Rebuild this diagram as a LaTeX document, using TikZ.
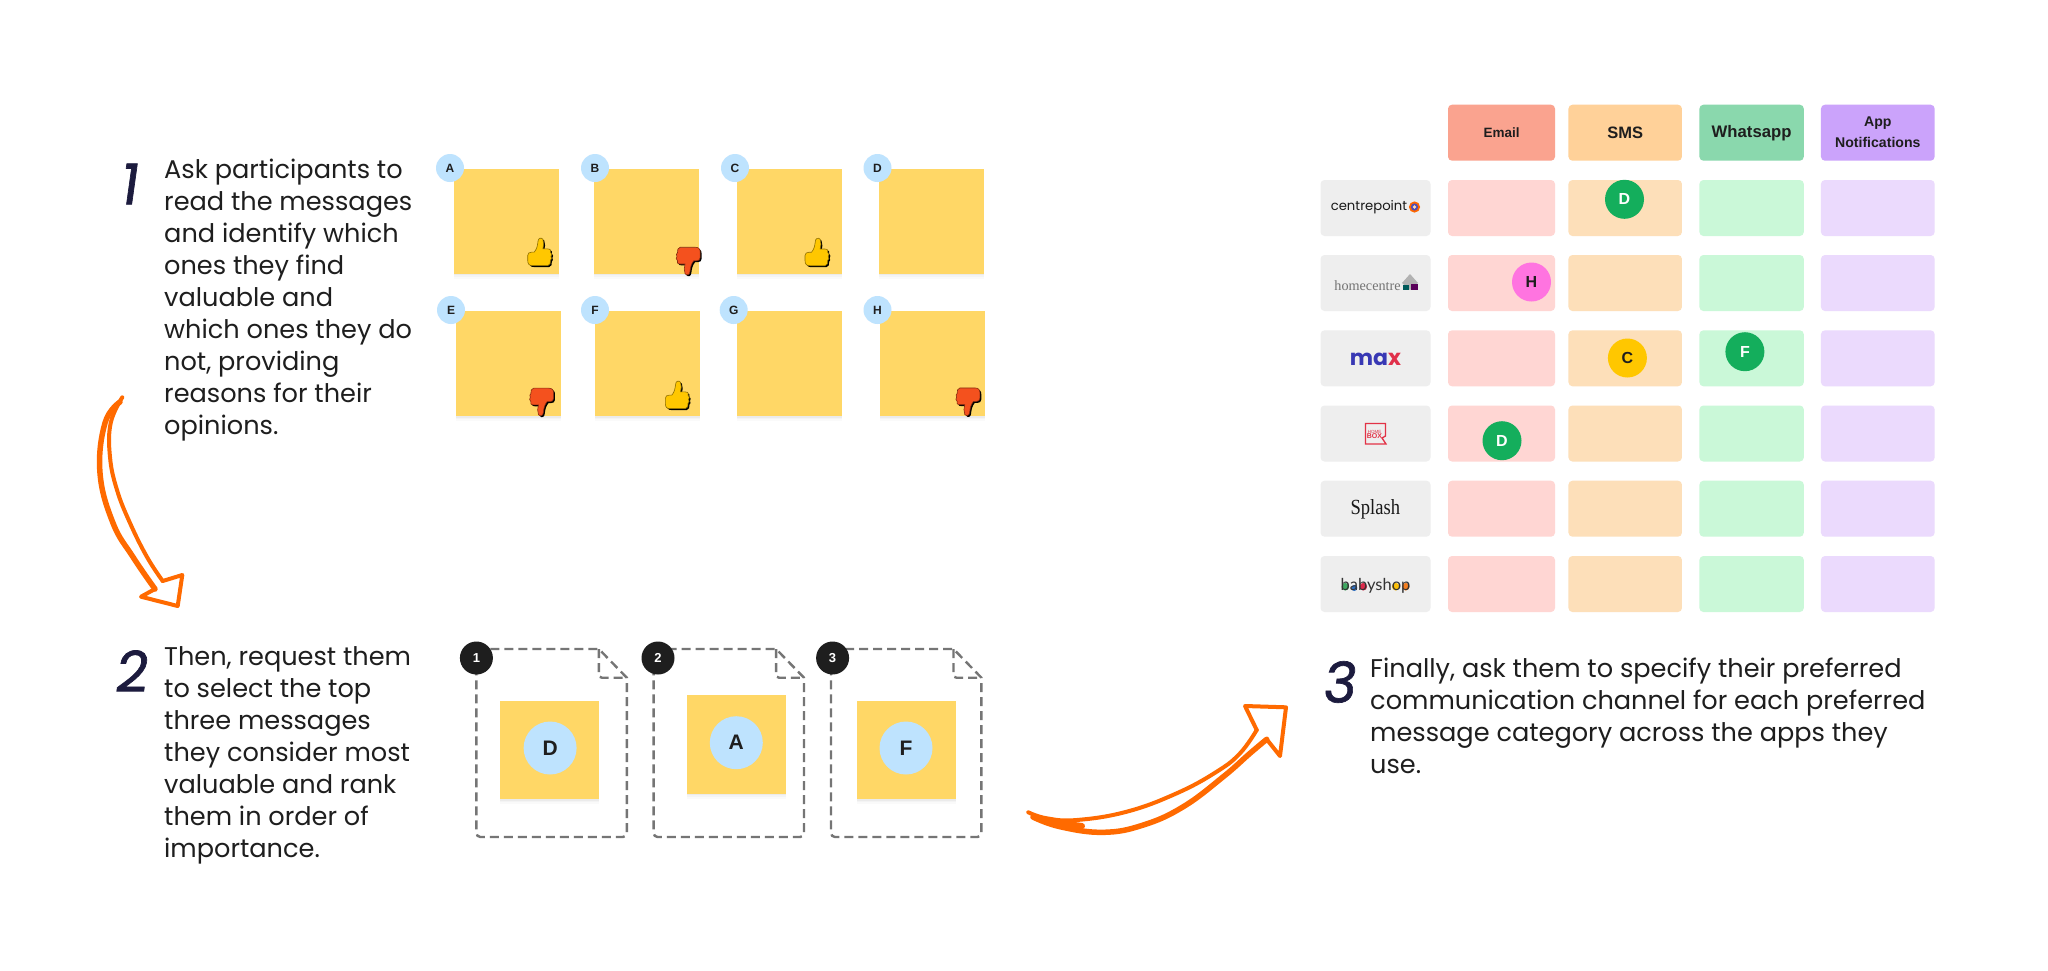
\documentclass[tikz,border=0pt]{standalone}
\usepackage{fontspec}
\setmainfont{Poppins}
\newfontfamily\headfont{Liberation Sans}
\newfontfamily\logoserif{Liberation Serif}
\newfontfamily\logosans{Lato}
\newfontfamily\handfont[FakeBold=1.2,FakeSlant=0.14]{Poppins}
\definecolor{stickyc}{HTML}{FFD766}
\definecolor{bubble}{HTML}{BEE3FE}
\definecolor{inkc}{HTML}{1E1E1E}
\definecolor{handc}{HTML}{1C1B3E}
\definecolor{arrowc}{HTML}{FF6A00}
\definecolor{dashc}{HTML}{757575}
\definecolor{hEmail}{HTML}{FAA38F}
\definecolor{hSms}{HTML}{FFD199}
\definecolor{hWa}{HTML}{8AD8AD}
\definecolor{hApp}{HTML}{CBA3FB}
\definecolor{cEmail}{HTML}{FFD6D3}
\definecolor{cSms}{HTML}{FDDFB9}
\definecolor{cWa}{HTML}{CAF8D8}
\definecolor{cApp}{HTML}{EBDAFD}
\definecolor{logoc}{HTML}{EEEEEE}
\definecolor{mgreen}{HTML}{14AE5C}
\definecolor{mpink}{HTML}{FF74E0}
\definecolor{myellow}{HTML}{FFC700}
\definecolor{thumbup}{HTML}{FFC700}
\definecolor{thumbdown}{HTML}{F4511E}
\definecolor{boxred}{HTML}{E23246}
\definecolor{dotA}{HTML}{3FA860}
\definecolor{dotB}{HTML}{2F6FC0}
\definecolor{dotC}{HTML}{DC2B4B}
\definecolor{dotD}{HTML}{FFC107}
\definecolor{dotE}{HTML}{F57F20}
\newcommand\thumbpath{(-11.5,3) .. controls (-11.5,1) and (-10,0) .. (-8,0) -- (-5.5,0) .. controls (-3,-3) and (-2.5,-6) .. (-2,-10) .. controls (-2,-13) and (1,-14) .. (2.5,-12) .. controls (4,-9) and (3,-6) .. (2.5,-3) -- (7,-3) .. controls (10,-3) and (10,-1) .. (9.5,0) .. controls (11,1) and (11,3) .. (10,4) .. controls (11,5) and (10.5,7) .. (9.5,7.5) .. controls (10,10) and (9,12) .. (7,12.5) -- (-7,12.5) .. controls (-10,12.5) and (-11.5,11) .. (-11.5,8) -- cycle}
\tikzset{
  steptext/.style={anchor=north west,inner sep=0pt,align=left,text=inkc,font=\fontsize{25.6}{32}\selectfont},
  hand/.style={inner sep=0pt,text=handc,font=\handfont\fontsize{56}{56}\selectfont},
  softshadow/.style={
    preaction={fill=black,opacity=.02,transform canvas={yshift=-5pt}},
    preaction={fill=black,opacity=.025,transform canvas={yshift=-3pt}},
    preaction={fill=black,opacity=.035,transform canvas={yshift=-1.5pt}}},
  sticky/.style={rectangle,fill=stickyc,inner sep=0pt,minimum width=105,minimum height=105,softshadow},
  bigsticky/.style={rectangle,fill=stickyc,inner sep=0pt,minimum width=99,minimum height=98.5,softshadow},
  tag/.style={circle,fill=bubble,inner sep=0pt,minimum size=28,text=inkc,font=\headfont\bfseries\fontsize{12}{12}\selectfont},
  bigtag/.style={circle,fill=bubble,inner sep=0pt,minimum size=53,text=inkc,font=\headfont\bfseries\fontsize{21}{21}\selectfont},
  rank/.style={circle,fill=inkc,inner sep=0pt,minimum size=33,text=white,font=\headfont\bfseries\fontsize{13}{13}\selectfont},
  marker/.style={circle,inner sep=0pt,minimum size=39,font=\headfont\bfseries\fontsize{16}{16}\selectfont},
  cell/.style={rectangle,rounded corners=4pt,inner sep=0pt,minimum height=56},
  head/.style={cell,text=inkc,align=center},
  dashdoc/.style={draw=dashc,line width=2.4pt,dash pattern=on 9pt off 5pt},
  sketch/.style={draw=arrowc,line cap=round,line join=round},
  thumbupshape/.pic={
    \fill[black] [xshift=.8pt,yshift=-.8pt] \thumbpath;
    \filldraw[fill=thumbup,draw=black!45!thumbup,line width=.6pt] [xshift=-.5pt,yshift=.5pt] \thumbpath;
  },
  thumbdownshape/.pic={
    \fill[black] [xshift=-.8pt,yshift=.8pt] \thumbpath;
    \filldraw[fill=thumbdown,draw=black!45!thumbdown,line width=.6pt] [xshift=.5pt,yshift=-.5pt] \thumbpath;
  },
}
\newcommand\docshape[1]{%
  \begin{scope}[xshift=#1pt]
    \draw[dashdoc] (0,649) -- (122.5,649) -- (150.4,677.7) [rounded corners=4pt] -- (150.4,837) -- (0,837) [sharp corners] -- (0,649);
    \draw[dashdoc] (122.5,649) [rounded corners=3pt] -- (122.5,677.7) [sharp corners] -- (150.4,677.7);
  \end{scope}}
\begin{document}
\begin{tikzpicture}[x=1pt,y=-1pt]
\useasboundingbox (0,0) rectangle (2048,970);
\fill[white] (0,0) rectangle (2048,970);

% step numbers and texts
\node[hand] (numOne) at (128,184) {1};
\node[hand] (numTwo) at (130,671) {2};
\node[hand] (numThree) at (1338,682) {3};
\node[steptext] (textOne) at (164,159) {Ask participants to\\read the messages\\and identify which\\ones they find\\valuable and\\which ones they do\\not, providing\\reasons for their\\opinions.};
\node[steptext] (textTwo) at (164,646.5) {Then, request them\\to select the top\\three messages\\they consider most\\valuable and rank\\them in order of\\importance.};
\node[steptext] (textThree) at (1370,658) {Finally, ask them to specify their preferred\\communication channel for each preferred\\message category across the apps they\\use.};

% stickies
\node[sticky] (sA) at (506.5,221) {};
\node[sticky] (sB) at (646.5,221) {};
\node[sticky] (sC) at (789.5,221) {};
\node[sticky] (sD) at (931.5,221) {};
\node[sticky] (sE) at (508.5,363.5) {};
\node[sticky] (sF) at (647.5,363.5) {};
\node[sticky] (sG) at (789.5,363.5) {};
\node[sticky] (sH) at (932.5,363.5) {};
\node[tag] (tA) at (450,168) {A};
\node[tag] (tB) at (595,168) {B};
\node[tag] (tC) at (735,168) {C};
\node[tag] (tD) at (877.5,168) {D};
\node[tag] (tE) at (451,310) {E};
\node[tag] (tF) at (595,310) {F};
\node[tag] (tG) at (733.7,310) {G};
\node[tag] (tH) at (877.5,310) {H};
\pic[scale=1.08] at (540.7,252.7) {thumbupshape};
\pic[rotate=180,scale=1.08] at (688.3,261.3) {thumbdownshape};
\pic[scale=1.08] at (818,252.8) {thumbupshape};
\pic[rotate=180,scale=1.08] at (541.7,402.2) {thumbdownshape};
\pic[scale=1.08] at (678.3,395.7) {thumbupshape};
\pic[rotate=180,scale=1.08] at (968,402) {thumbdownshape};

% ranked documents
\docshape{476.4}
\docshape{653.6}
\docshape{831}
\node[rank] (rOne) at (476.4,658) {1};
\node[rank] (rTwo) at (658,658) {2};
\node[rank] (rThree) at (832.6,658) {3};
\node[bigsticky] (bD) at (549.6,750) {};
\node[bigsticky] (bA) at (736.1,744.3) {};
\node[bigsticky] (bF) at (906,750) {};
\node[bigtag] (btD) at (550.1,748) {D};
\node[bigtag] (btA) at (736.3,742.7) {A};
\node[bigtag] (btF) at (906,748) {F};

% table header
\node[head,fill=hEmail,minimum width=107,font=\headfont\bfseries\fontsize{13.5}{16}\selectfont] (hE) at (1501.5,132.7) {Email};
\node[head,fill=hSms,minimum width=113.5,font=\headfont\bfseries\fontsize{16.5}{16}\selectfont] (hS) at (1625.2,132.7) {SMS};
\node[head,fill=hWa,minimum width=104.4,font=\headfont\bfseries\fontsize{16.7}{16}\selectfont] (hW) at (1751.6,132.7) {Whatsapp};
\node[head,fill=hApp,minimum width=113.7,font=\headfont\bfseries\fontsize{14.1}{21}\selectfont] (hA) at (1877.8,132.7) {App\\Notifications};

% table body
\foreach \r/\yy in {1/208,2/283,3/358.3,4/433.5,5/508.7,6/584}{
  \node[cell,fill=logoc,minimum width=110] (logo\r) at (1375.5,\yy) {};
  \node[cell,fill=cEmail,minimum width=107] (email\r) at (1501.5,\yy) {};
  \node[cell,fill=cSms,minimum width=113.5] (sms\r) at (1625.2,\yy) {};
  \node[cell,fill=cWa,minimum width=104.4] (wa\r) at (1751.6,\yy) {};
  \node[cell,fill=cApp,minimum width=113.7] (app\r) at (1877.8,\yy) {};
}

% logos
\node[inner sep=0pt,text=black!90,font=\fontsize{13.2}{14}\selectfont] (lgCentre) at (1369,207) {centrepoint};
\fill[orange!80!red] (1414.5,207) circle (5.6);
\fill[blue!60!black!70] (1414.5,207) circle (3.6);
\fill[white!70!orange] (1414.5,207) circle (1.8);
\node[inner sep=0pt,text=black!55,font=\logoserif\fontsize{14.2}{14}\selectfont] (lgHome) at (1367.5,286) {homecentre};
\fill[black!30] (1410,274) -- (1418,283) -- (1410,290) -- (1402,283) -- cycle;
\fill[teal!70!black] (1402.5,285) rectangle (1409,289.5);
\fill[violet!70!black] (1410.5,284) rectangle (1418,289.5);
\node[inner sep=0pt,font=\bfseries\fontsize{22}{22}\selectfont] (lgMax) at (1375.5,359.5) {\textcolor[HTML]{3838B4}{ma}\textcolor[HTML]{E0304A}{x}};
\draw[draw=boxred,line width=1.3pt] (1365.5,423.5) -- (1385.5,423.5) -- (1385.5,436) -- (1382,438) -- (1386,444) -- (1365.5,444) -- cycle;
\node[inner sep=0pt,align=center,text=boxred,font=\headfont\fontsize{4.5}{6}\selectfont] (lgBox) at (1374.5,434.5) {HOME\\[-1pt]{\bfseries\fontsize{7}{7}\selectfont BOX}};
\node[inner sep=0pt,text=black!90,font=\logoserif] (lgSplash) at (1375.3,509.5) {\scalebox{1.03}[1.2]{\fontsize{18}{18}\selectfont Splash}};
\fill[dotA] (1345.3,586.7) circle (3.8);
\fill[dotB] (1354.3,588) circle (3);
\fill[dotC] (1363.3,586.7) circle (3.8);
\fill[dotD] (1395.7,586.7) circle (3.8);
\fill[dotE] (1405.7,586.7) circle (3.8);
\node[inner sep=0pt,text=black!80,font=\logosans\fontsize{16.5}{16}\selectfont] (lgBaby) at (1375.5,586) {babyshop};

% markers
\node[marker,fill=mgreen,text=white] (mD) at (1624.5,199.3) {D};
\node[marker,fill=mpink,text=inkc] (mH) at (1531.5,282) {H};
\node[marker,fill=myellow,text=inkc] (mC) at (1627.4,358) {C};
\node[marker,fill=mgreen,text=white] (mF) at (1744.9,351.7) {F};
\node[marker,fill=mgreen,text=white] (mDtwo) at (1502,440.7) {D};

% hand drawn arrows
\coordinate (arrOneStart) at (122.3,397.3);
\coordinate (arrOneOuterEnd) at (155,589);
\coordinate (arrOneInnerEnd) at (162.7,581);
\draw[sketch,line width=5.5pt] plot[smooth,tension=.7] coordinates {(120,402) (105,423) (100,473) (113,523) (133,557) (arrOneOuterEnd)};
\draw[sketch,line width=4pt] plot[smooth,tension=.7] coordinates {(arrOneStart) (110.7,423) (110,457) (117,490) (130,523) (147,557) (arrOneInnerEnd)};
\draw[sketch,line width=4pt] (arrOneOuterEnd) -- (141,596.7) -- (177.7,606) -- (182.3,575) -- (arrOneInnerEnd);

\coordinate (arrTwoStart) at (1028.3,812.3);
\coordinate (arrTwoLowerEnd) at (1266.7,739.3);
\coordinate (arrTwoUpperEnd) at (1256.7,730);
\draw[sketch,line width=5.5pt] plot[smooth,tension=.7] coordinates {(1033,817) (1060,826.7) (1103.3,832.3) (1143.3,825) (1183.3,806.7) (1223.3,776.7) (1250,753.3) (arrTwoLowerEnd)};
\draw[sketch,line width=4pt] plot[smooth,tension=.7] coordinates {(arrTwoStart) (1046.7,818.3) (1076.7,820) (1126.7,811.7) (1176.7,793.3) (1216.7,771.7) (1240,753.3) (arrTwoUpperEnd)};
\draw[sketch,line width=6pt] (1046,821) -- (1082,826);
\draw[sketch,line width=4pt] (arrTwoLowerEnd) -- (1280,756) -- (1286,707.3) -- (1245,706) -- (arrTwoUpperEnd);
\end{tikzpicture}
\end{document}
